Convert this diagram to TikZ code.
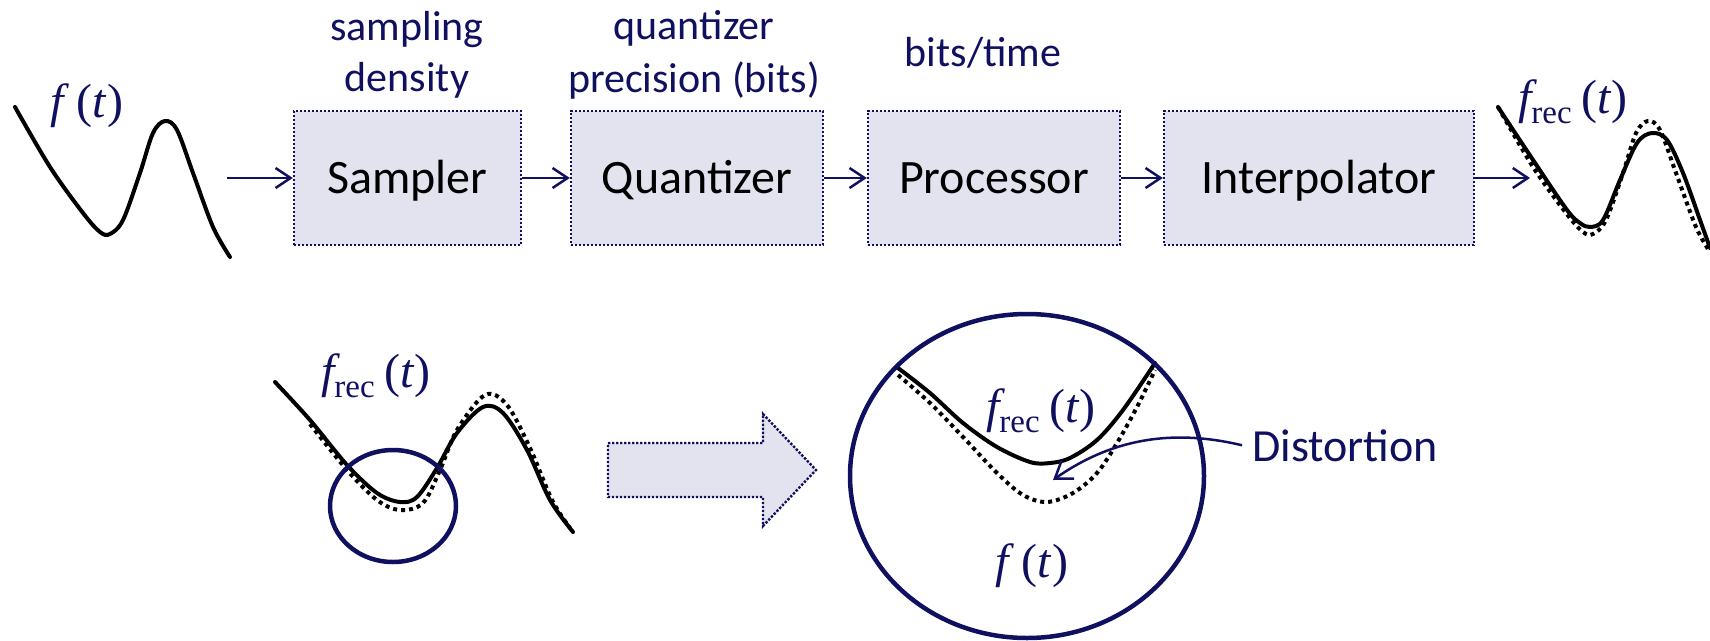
\documentclass[tikz,border=0pt]{standalone}
\usepackage{fontspec}
\usetikzlibrary{arrows.meta}
\newfontfamily\carl{Carlito}
\newfontfamily\tnr{Liberation Serif}
\definecolor{navy}{RGB}{16,16,96}
\definecolor{boxfill}{RGB}{227,227,240}
\newcommand\myft{{\tnr\itshape f\/}\kern7pt{\tnr(}{\tnr\itshape t\/}{\tnr)}}
\newcommand\myfrec{{\tnr\itshape f}\raisebox{-10pt}{\tnr\fontsize{33}{33}\selectfont rec}\kern10pt{\tnr(}{\tnr\itshape t\/}{\tnr)}}
\begin{document}
\begin{tikzpicture}[x=1pt,y=-1pt,
  blk/.style={draw=navy, line width=2.4pt, dash pattern=on 2.4pt off 1.6pt, fill=boxfill,
    minimum height=134pt, text height=30pt, text depth=0pt, inner sep=0pt,
    font=\carl\fontsize{48}{52}\selectfont},
  conn/.style={navy, line width=2.5pt, -{Straight Barb[length=15pt,width=20pt]}},
  lbl/.style={text=navy, font=\carl\fontsize{42}{51}\selectfont, anchor=base, inner sep=0pt},
  mlbl/.style={text=navy, font=\tnr\fontsize{48}{52}\selectfont, inner sep=0pt, anchor=base},
  sig/.style={black, line width=4pt, line cap=round, line join=round},
  sigdot/.style={black, line width=4pt, dash pattern=on 4pt off 4pt},
  ring/.style={navy, line width=4.5pt}]
\useasboundingbox (0,0) rectangle (1710,640);

% ---- top chain
\node[blk, minimum width=227pt] (smp) at (407.5,178) {Sampler};
\node[blk, minimum width=252pt] (qnt) at (697,178) {Quantizer};
\node[blk, minimum width=252pt] (prc) at (994,178) {Processor};
\node[blk, minimum width=310pt] (itp) at (1319,178) {Interpolator};
\coordinate (in) at (227,178);
\coordinate (out) at (1530,178);
\draw[conn] (in) -- (smp.west);
\draw[conn] (smp.east) -- (qnt.west);
\draw[conn] (qnt.east) -- (prc.west);
\draw[conn] (prc.east) -- (itp.west);
\draw[conn] (itp.east) -- (out);

\node[lbl] (l1a) at (407,40) {sampling};
\node[lbl] (l1b) at (407,91) {density};
\node[lbl] (l2a) at (694,39) {quantizer};
\node[lbl] (l2b) at (694,92) {precision (bits)};
\node[lbl] (l3) at (983,66) {bits/time};

% ---- input signal
\draw[sig] plot[smooth, tension=0.55] coordinates {(15,107) (50,167) (83,213) (100,232) (110,234) (123,220) (140,173) (153,133) (165,121) (177,130) (193,173) (213,227) (230,257)};
\node[mlbl] (f1) at (87,117) {\myft};

% ---- reconstructed signal (top right)
\draw[sigdot] plot[smooth, tension=0.55] coordinates {(1498,107) (1533,167) (1566,213) (1583,232) (1593,234) (1606,220) (1623,173) (1636,133) (1648,121) (1660,130) (1676,173) (1696,227) (1710,252)};
\draw[sig] plot[smooth, tension=0.55] coordinates {(1498,107) (1533,160) (1567,210) (1580,223) (1590,227) (1603,220) (1620,180) (1637,143) (1652,133) (1667,140) (1683,173) (1700,220) (1710,248)};
\node[mlbl] (f2) at (1573,113) {\myfrec};

% ---- bottom left
\draw[sigdot] plot[smooth, tension=0.55] coordinates {(310,424) (347,470) (377,500) (400,510) (423,503) (440,470) (457,430) (485,395) (507,405) (530,448) (552,500) (570,528)};
\draw[sig] plot[smooth, tension=0.55] coordinates {(275,382) (310,420) (347,465) (377,493) (400,502) (417,497) (437,468) (457,433) (483,407) (503,413) (527,450) (550,500) (573,532)};
\node[mlbl] (f3) at (376,387) {\myfrec};
\draw[ring] (393,506) ellipse [x radius=63, y radius=56];

% ---- block arrow
\draw[navy, line width=2.4pt, dash pattern=on 2.4pt off 1.6pt, fill=boxfill]
  (608,443) -- (763,443) -- (763,414) -- (816,470) -- (763,526) -- (763,497) -- (608,497) -- cycle;

% ---- magnified view
\draw[sigdot] plot[smooth, tension=0.55] coordinates {(898,375) (930,403) (963,437) (997,473) (1023,495) (1047,502) (1073,493) (1097,473) (1117,443) (1137,407) (1155,370)};
\draw[sig] plot[smooth, tension=0.55] coordinates {(898,368) (930,393) (963,423) (997,447) (1030,462) (1050,463) (1070,458) (1097,440) (1123,410) (1155,363)};
\draw[ring] (1027,476) ellipse [x radius=177, y radius=162];
\node[mlbl] (f4) at (1041,422) {\myfrec};
\node[mlbl] (f5) at (1032,577) {\myft};

\node[text=navy, font=\carl\fontsize{46}{50}\selectfont, anchor=base west, inner sep=0pt] (dist) at (1252,461) {Distortion};
\coordinate (dtip) at (1053,480);
\draw[navy, line width=2.5pt, -{Straight Barb[length=16pt,width=22pt]}]
  ([xshift=-10pt]dist.west) .. controls (1170,428) and (1110,440) .. (dtip);
\end{tikzpicture}
\end{document}
